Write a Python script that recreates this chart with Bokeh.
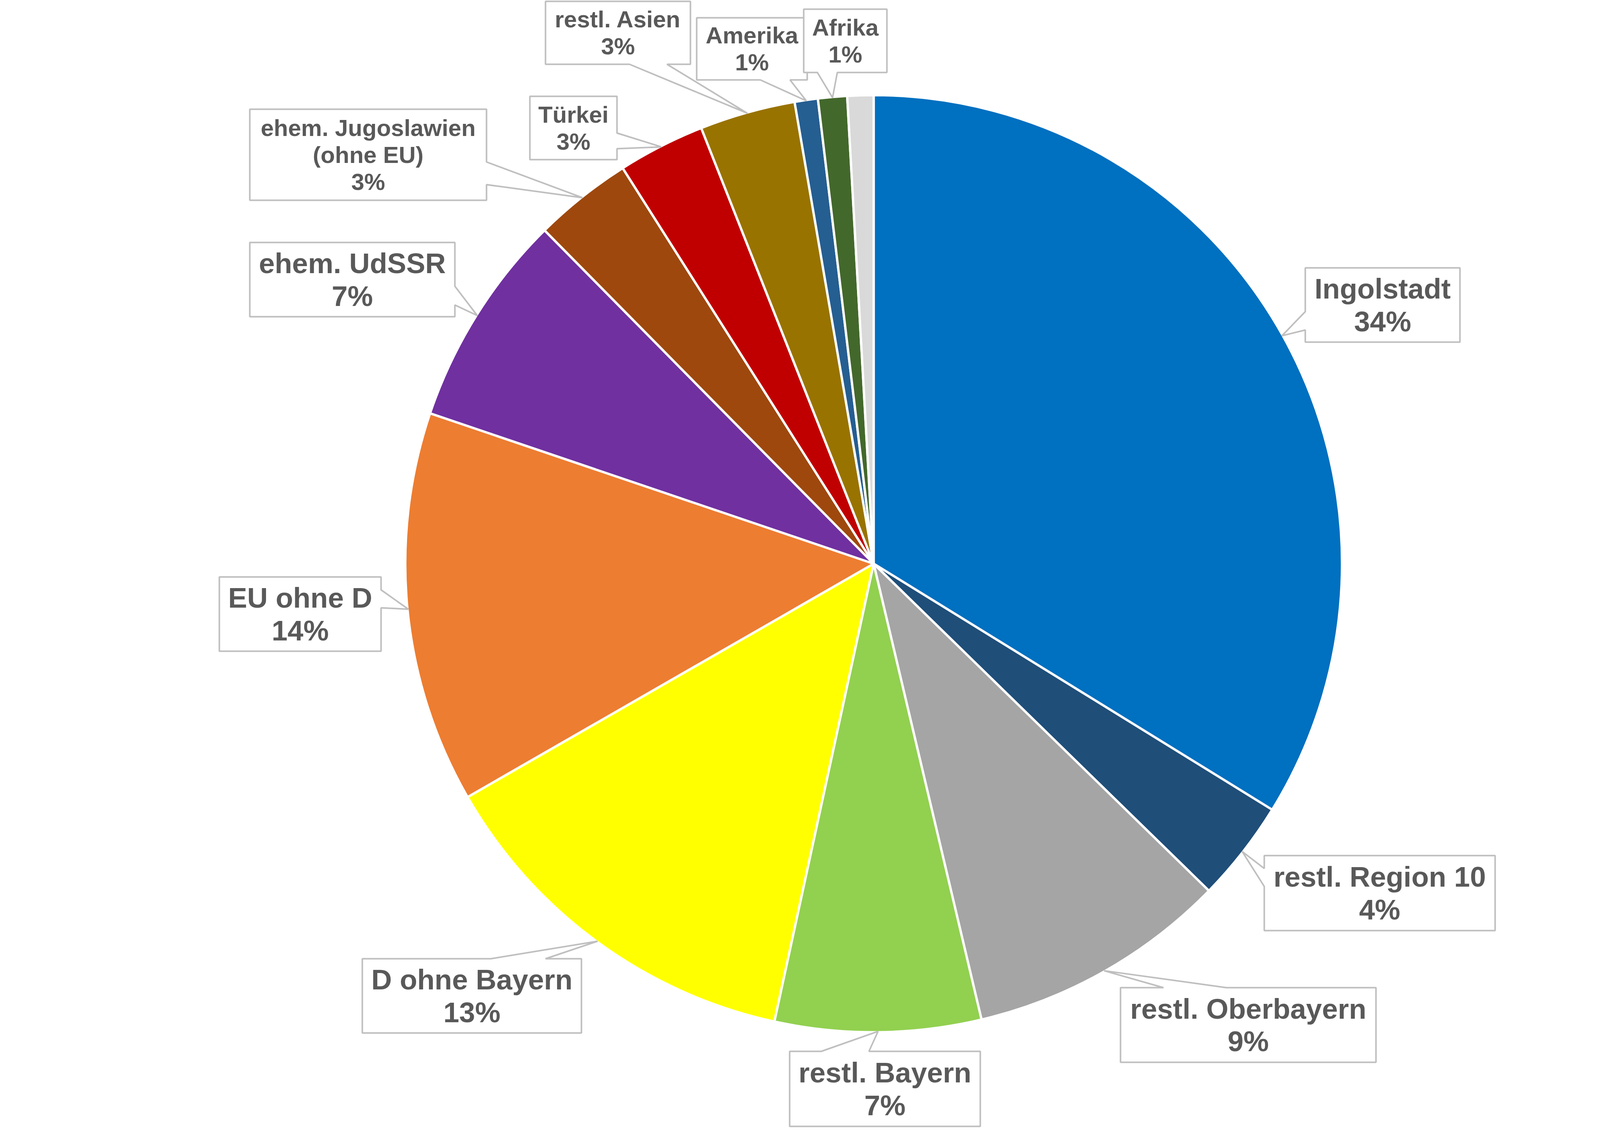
import math

from bokeh.core.properties import value
from bokeh.embed import file_html
from bokeh.models import ColumnDataSource, Range1d
from bokeh.plotting import figure
from bokeh.resources import INLINE

# shares in percent, clockwise from 12 o'clock
categories = ["Ingolstadt", "restl. Region 10", "restl. Oberbayern", "restl. Bayern",
              "D ohne Bayern", "EU ohne D", "ehem. UdSSR",
              "ehem. Jugoslawien\n(ohne EU)", "Türkei", "restl. Asien",
              "Amerika", "Afrika", "sonstige"]
shares = [33.8, 3.5, 9.0, 7.1, 13.3, 13.5, 7.4, 3.4, 3.0, 3.3, 0.8, 1.0, 0.9]
colors = ["#0070C0", "#1F4E79", "#A5A5A5", "#92D050", "#FFFF00", "#ED7D31",
          "#7030A0", "#9E480E", "#C00000", "#997300", "#255E91", "#43682B",
          "#D9D9D9"]

# callout boxes in page pixels: left, top, right, bottom, pointer edge,
# pointer base from/to along that edge, font size
boxes = [
    (3349, 693, 3745, 883, "left", 805, 852, 73),
    (3244, 2197, 3835, 2389, "left", 2230, 2276, 73),
    (2876, 2535, 3530, 2726, "top", 2986, 3147, 73),
    (2029, 2698, 2517, 2890, "top", 2110, 2232, 73),
    (935, 2461, 1496, 2651, "top", 1264, 1404, 73),
    (569, 1484, 983, 1674, "right", 1517, 1563, 73),
    (647, 628, 1172, 818, "right", 740, 788, 73),
    (647, 287, 1253, 520, "right", 422, 480, 60),
    (1364, 254, 1587, 416, "right", 348, 388, 60),
    (1404, 11, 1775, 172, "bottom", 1619, 1715, 60),
    (1791, 53, 2074, 212, "bottom", 1954, 2030, 60),
    (2065, 31, 2278, 193, "bottom", 2100, 2151, 60),
    None,
]

W, H = 4472, 2886
CX, CY, R = 2244, 1450, 1197


def fx(x):
    return x - 8


def fy(y):
    return H - (y - 8)


p = figure(width=W, height=H, x_range=Range1d(0, W), y_range=Range1d(0, H),
           output_backend="svg", toolbar_location=None, min_border=0)
p.axis.visible = False
p.grid.visible = False
p.outline_line_color = None
p.background_fill_color = "white"
p.border_fill_color = "white"

total = sum(shares)
starts, ends, mids = [], [], []
cum = 0.0
for v in shares:
    starts.append(math.pi / 2 - 2 * math.pi * cum / total)
    mids.append(math.pi / 2 - 2 * math.pi * (cum + v / 2) / total)
    cum += v
    ends.append(math.pi / 2 - 2 * math.pi * cum / total)

src = ColumnDataSource(dict(start=starts, end=ends, color=colors, name=categories))
p.wedge(x=fx(CX), y=fy(CY), radius=R + 2, start_angle="start", end_angle="end",
        direction="clock", fill_color="color", line_color="white", line_width=6,
        source=src)

# callouts
xs, ys = [], []
tx, ty, tt, tfs = [], [], [], []
for name, v, a, box in zip(categories, shares, mids, boxes):
    if box is None:
        continue
    x0, y0, x1, y1, edge, b1, b2, fs = box
    tip = (CX + R * math.cos(a), CY - R * math.sin(a))
    pts = [(x0, y0)]
    if edge == "top":
        pts += [(b1, y0), tip, (b2, y0)]
    pts.append((x1, y0))
    if edge == "right":
        pts += [(x1, b1), tip, (x1, b2)]
    pts.append((x1, y1))
    if edge == "bottom":
        pts += [(b2, y1), tip, (b1, y1)]
    pts.append((x0, y1))
    if edge == "left":
        pts += [(x0, b2), tip, (x0, b1)]
    xs.append([fx(px) for px, _ in pts])
    ys.append([fy(py) for _, py in pts])

    lines = name.split("\n") + [f"{int(v + 0.5)}%"]
    lh = fs * 1.15
    mid_y = (y0 + y1) / 2
    for i, line in enumerate(lines):
        tx.append(fx((x0 + x1) / 2))
        ty.append(fy(mid_y + (i - (len(lines) - 1) / 2) * lh))
        tt.append(line)
        tfs.append(f"{fs}px")

p.patches(xs, ys, fill_color="white", line_color="#BFBFBF", line_width=4)

lbl = ColumnDataSource(dict(x=tx, y=ty, text=tt, fs=tfs))
p.text(x="x", y="y", text="text", source=lbl, text_font=value("Liberation Sans"),
       text_font_style="bold", text_font_size="fs", text_color="#595959",
       text_align="center", text_baseline="middle")

open("out.html", "w").write(file_html(p, INLINE))
